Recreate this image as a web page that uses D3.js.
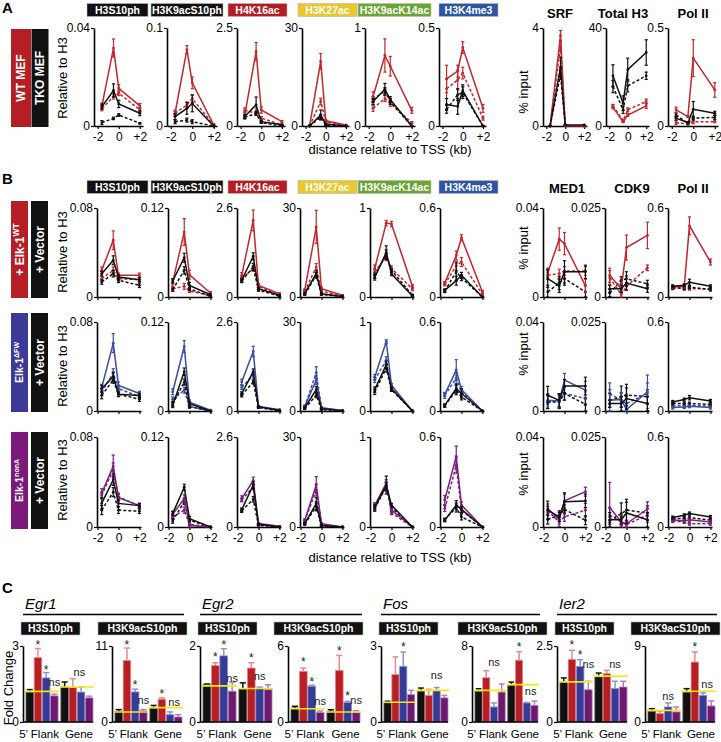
<!DOCTYPE html>
<html>
<head>
<meta charset="utf-8">
<script src="https://cdn.jsdelivr.net/npm/d3@7"></script>
<style>
  body { margin: 0; background: #fff; }
  svg text { font-family: Arial, "Liberation Sans", Helvetica, sans-serif; }
</style>
</head>
<body>
<svg id="fig"></svg>
<script>
// ---------------- data ----------------
const histoneMarks = ["H3S10ph", "H3K9acS10ph", "H4K16ac", "H3K27ac", "H3K9acK14ac", "H3K4me3"];
const markColors = ["#111111", "#111111", "#b51d23", "#e8c82a", "#6aa533", "#2d55a4"];
const factorsA = ["SRF", "Total H3", "Pol II"];
const factorsB = ["MED1", "CDK9", "Pol II"];
const positionsKb = [-1.6, -0.5, 0, 2];
const kbTicks = [-2, 0, 2];
const kbTickLabels = ["-2", "0", "+2"];
const yMaxA = [0.04, 0.1, 2.5, 30, 1, 0.5, 4, 40, 0.5];
const yTopLabelsA = ["0.04", "0.1", "2.5", "30", "1", "0.5", "4", "40", "0.5"];
const yMaxB = [0.08, 0.12, 2.6, 30, 1, 0.6, 0.04, 0.025, 0.6];
const yTopLabelsB = ["0.08", "0.12", "2.6", "30", "1", "0.6", "0.04", "0.025", "0.6"];

// each chart: [coloured solid, coloured dashed, black solid, black dashed], values at positionsKb
const wtMef = [
  [[0.0082, 0.0318, 0.0154, 0.0082], [0.0072, 0.012, 0.0134, 0.0066], [0.0079, 0.0145, 0.009, 0.0052], [0.0014, 0.0031, 0.0045, 0.0011]],
  [[0.013, 0.078, 0.044, 0.001], [0.013, 0.0215, 0.028, 0.001], [0.0095, 0.018, 0.023, 0], [0.0044, 0.006, 0.0044, 0]],
  [[0.28, 1.9, 0.41, 0.11], [0.4, 0.33, 0.2, 0.03], [0.24, 0.54, 0.11, 0.03], [0.22, 0.32, 0.085, 0]],
  [[0, 19.8, 1.6, 0.3], [0, 7.5, 1.3, 0], [0, 3.4, 0.6, 0], [0, 2.7, 0.3, 0]],
  [[0.3, 0.72, 0.61, 0.16], [0.18, 0.28, 0.23, 0.035], [0.25, 0.375, 0.27, 0], [0.27, 0.36, 0.25, 0]],
  [[0.24, 0.28, 0.4, 0.09], [0.19, 0.235, 0.27, 0.04], [0.11, 0.1, 0.18, 0], [0.085, 0.16, 0.17, 0]],
  [[0, 3.7, 0.02, 0], [0, 3.25, 0.02, 0], [0, 2.4, 0.05, 0.04], [0, 2.1, 0.02, 0]],
  [[7.6, 1.8, 4.5, 8.2], [8.2, 2.2, 6.6, 10], [20.5, 9.3, 23, 30], [16.1, 6.6, 16.4, 20.5]],
  [[0.082, 0.048, 0.346, 0.184], [0.017, 0.01, 0.022, 0.022], [0.04, 0.017, 0.085, 0.065], [0.056, 0.014, 0.04, 0.044]]
];
const wtMefErr = [
  [[0.0012, 0.0037, 0.0015, 0.001], [0.001, 0.001, 0.001, 0.0008], [0.001, 0.0027, 0.0015, 0.001], [0.0008, 0.0005, 0.0005, 0.0003]],
  [[0.003, 0.004, 0.006, 0.001], [0.002, 0.003, 0.004, 0.001], [0.003, 0.006, 0.0085, 0], [0.002, 0.002, 0.002, 0]],
  [[0.08, 0.23, 0.08, 0.03], [0.06, 0.05, 0.04, 0.01], [0.05, 0.2, 0.03, 0.01], [0.04, 0.05, 0.02, 0]],
  [[0.3, 2.4, 0.5, 0.1], [0.2, 1, 0.3, 0], [0.2, 1.5, 0.2, 0], [0.1, 0.8, 0.1, 0]],
  [[0.05, 0.17, 0.1, 0.03], [0.03, 0.03, 0.03, 0.01], [0.03, 0.06, 0.03, 0], [0.03, 0.03, 0.03, 0]],
  [[0.07, 0.03, 0.03, 0.02], [0.05, 0.05, 0.03, 0.01], [0.03, 0.04, 0.03, 0], [0.02, 0.03, 0.03, 0]],
  [[0, 0.2, 0.01, 0], [0, 0.2, 0.01, 0], [0, 0.4, 0.01, 0.01], [0, 0.2, 0.01, 0]],
  [[0.6, 0.4, 0.6, 1], [0.6, 0.5, 0.8, 1], [4.5, 3, 4.7, 5.2], [2.5, 1.5, 2.5, 1.5]],
  [[0.014, 0.005, 0.094, 0.037], [0.01, 0.005, 0.01, 0.005], [0.01, 0.005, 0.04, 0.01], [0.01, 0.005, 0.01, 0.01]]
];

const elkWT = [
  [[0.024, 0.051, 0.0195, 0.0195], [0.0165, 0.024, 0.0165, 0.0156], [0.021, 0.033, 0.018, 0.0156], [0.0135, 0.021, 0.015, 0.0105]],
  [[0.02, 0.0876, 0.03, 0.0054], [0.011, 0.0144, 0.008, 0.002], [0.0216, 0.053, 0.0157, 0.003], [0.01, 0.036, 0.011, 0.001]],
  [[0.63, 2.24, 0.34, 0.1], [0.54, 0.83, 0.31, 0.05], [0.49, 1.19, 0.24, 0.05], [0.47, 0.88, 0.2, 0.03]],
  [[2.2, 23.6, 2.8, 0.6], [1.9, 10.1, 2, 0.3], [1.1, 7.9, 1.1, 0.2], [0.9, 7.3, 0.9, 0.1]],
  [[0.32, 0.83, 0.82, 0.12], [0.28, 0.45, 0.32, 0.09], [0.22, 0.5, 0.26, 0.01], [0.24, 0.48, 0.3, 0.02]],
  [[0.094, 0.28, 0.4, 0.034], [0.085, 0.21, 0.236, 0.018], [0.045, 0.11, 0.146, 0], [0.04, 0.17, 0.13, 0]],
  [[0.011, 0.026, 0.024, 0.005], [0.0098, 0.0105, 0.0117, 0.0117], [0.0083, 0.005, 0.0113, 0.0113], [0.0023, 0.0063, 0.0083, 0.0023]],
  [[0.0061, 0.0023, 0.0139, 0.0173], [0.0054, 0.0007, 0.003, 0.0082], [0.0023, 0.0023, 0.0039, 0.0023], [0.0011, 0.0047, 0.0051, 0.0037]],
  [[0.067, 0.072, 0.48, 0.236], [0.063, 0.056, 0.056, 0.056], [0.072, 0.079, 0.1, 0.072], [0.06, 0.06, 0.067, 0.05]]
];
const elkWTErr = [
  [[0.003, 0.0084, 0.002, 0.002], [0.002, 0.003, 0.002, 0.002], [0.002, 0.004, 0.002, 0.002], [0.002, 0.003, 0.002, 0.002]],
  [[0.004, 0.018, 0.006, 0.002], [0.003, 0.004, 0.002, 0.001], [0.003, 0.006, 0.004, 0.001], [0.002, 0.005, 0.002, 0.001]],
  [[0.08, 0.3, 0.05, 0.02], [0.06, 0.08, 0.04, 0.01], [0.05, 0.1, 0.03, 0.01], [0.05, 0.1, 0.03, 0.01]],
  [[0.5, 5.6, 0.5, 0.2], [0.4, 1.2, 0.4, 0.1], [0.3, 1.2, 0.3, 0.1], [0.3, 1, 0.3, 0.1]],
  [[0.04, 0.03, 0.03, 0.02], [0.03, 0.04, 0.03, 0.02], [0.03, 0.075, 0.02, 0.01], [0.03, 0.05, 0.02, 0.01]],
  [[0.01, 0.03, 0.02, 0.01], [0.01, 0.03, 0.03, 0.01], [0.01, 0.03, 0.02, 0], [0.01, 0.06, 0.02, 0]],
  [[0.002, 0.005, 0.005, 0.003], [0.002, 0.002, 0.002, 0.002], [0.004, 0.003, 0.005, 0.003], [0.003, 0.003, 0.003, 0.003]],
  [[0.002, 0.001, 0.0035, 0.0037], [0.002, 0.001, 0.001, 0.0008], [0.001, 0.001, 0.002, 0.001], [0.001, 0.001, 0.002, 0.001]],
  [[0.01, 0.01, 0.06, 0.02], [0.01, 0.01, 0.01, 0.01], [0.01, 0.01, 0.02, 0.01], [0.01, 0.01, 0.01, 0.01]]
];

const elkDFW = [
  [[0.021, 0.061, 0.023, 0.0157], [0.017, 0.034, 0.02, 0.013], [0.02, 0.031, 0.015, 0.014], [0.014, 0.028, 0.015, 0.0106]],
  [[0.026, 0.087, 0.012, 0.001], [0.016, 0.028, 0.006, 0], [0.0077, 0.053, 0.01, 0], [0.0095, 0.039, 0.006, 0]],
  [[0.85, 1.74, 0.14, 0.04], [0.69, 1.05, 0.12, 0.02], [0.51, 1.15, 0.12, 0.02], [0.46, 0.85, 0.1, 0.01]],
  [[1.6, 10.4, 1.1, 0.2], [1.4, 12.9, 1, 0.1], [1.1, 7.2, 0.8, 0.1], [0.8, 5.3, 0.5, 0]],
  [[0.38, 0.78, 0.29, 0], [0.35, 0.57, 0.26, 0], [0.24, 0.52, 0.25, 0], [0.215, 0.48, 0.24, 0]],
  [[0.11, 0.276, 0.145, 0], [0.105, 0.22, 0.13, 0], [0.038, 0.152, 0.118, 0], [0.035, 0.14, 0.095, 0]],
  [[0.0048, 0.0045, 0.0139, 0.0094], [0.0041, 0.0048, 0.0079, 0.0056], [0.0071, 0.0048, 0.0112, 0.0112], [0.0041, 0.0041, 0.0079, 0.003]],
  [[0.003, 0.0032, 0.0004, 0.0054], [0.0049, 0.003, 0.0021, 0.0049], [0.0021, 0.0021, 0.0035, 0.0021], [0.003, 0.004, 0.0045, 0.004]],
  [[0.023, 0.027, 0.032, 0.023], [0.032, 0.038, 0.038, 0.032], [0.061, 0.077, 0.09, 0.068], [0.05, 0.05, 0.05, 0.045]]
];
const elkDFWErr = [
  [[0.003, 0.0085, 0.003, 0.002], [0.003, 0.004, 0.002, 0.002], [0.003, 0.004, 0.002, 0.002], [0.003, 0.003, 0.002, 0.002]],
  [[0.004, 0.008, 0.003, 0.001], [0.003, 0.004, 0.002, 0], [0.003, 0.005, 0.003, 0], [0.003, 0.004, 0.002, 0]],
  [[0.08, 0.15, 0.02, 0.01], [0.06, 0.08, 0.02, 0.01], [0.05, 0.08, 0.02, 0.01], [0.05, 0.06, 0.02, 0.01]],
  [[0.4, 1.5, 0.3, 0.1], [0.4, 2, 0.3, 0.1], [0.3, 1, 0.2, 0], [0.3, 0.8, 0.2, 0]],
  [[0.03, 0.02, 0.02, 0], [0.03, 0.04, 0.02, 0], [0.03, 0.04, 0.02, 0], [0.03, 0.04, 0.02, 0]],
  [[0.01, 0.07, 0.02, 0], [0.02, 0.04, 0.02, 0], [0.01, 0.03, 0.03, 0], [0.01, 0.03, 0.02, 0]],
  [[0.003, 0.003, 0.003, 0.004], [0.003, 0.003, 0.003, 0.003], [0.004, 0.003, 0.003, 0.004], [0.003, 0.003, 0.003, 0.003]],
  [[0.003, 0.002, 0.001, 0.0047], [0.003, 0.002, 0.002, 0.003], [0.001, 0.002, 0.003, 0.002], [0.002, 0.003, 0.003, 0.002]],
  [[0.01, 0.01, 0.01, 0.01], [0.01, 0.01, 0.01, 0.01], [0.01, 0.01, 0.015, 0.01], [0.01, 0.01, 0.01, 0.01]]
];

const elkNonA = [
  [[0.03, 0.054, 0.026, 0.019], [0.028, 0.051, 0.027, 0.0185], [0.021, 0.042, 0.021, 0.019], [0.015, 0.031, 0.015, 0.014]],
  [[0.017, 0.038, 0.002, 0], [0.0134, 0.0224, 0.0036, 0], [0.018, 0.053, 0.0112, 0], [0.008, 0.034, 0.009, 0]],
  [[0.82, 1.34, 0.1, 0.02], [0.78, 1.16, 0.08, 0.01], [0.5, 1.21, 0.08, 0], [0.47, 0.8, 0.05, 0]],
  [[2.2, 14, 1.1, 0], [2, 12.3, 0.9, 0], [1.1, 7.8, 0.5, 0], [0.9, 6.9, 0.4, 0]],
  [[0.24, 0.485, 0.187, 0], [0.23, 0.455, 0.157, 0], [0.216, 0.466, 0.243, 0], [0.205, 0.448, 0.216, 0]],
  [[0.18, 0.47, 0.146, 0], [0.123, 0.41, 0.112, 0], [0.045, 0.146, 0.117, 0], [0.049, 0.13, 0.067, 0]],
  [[0.0082, 0.0033, 0.0116, 0.0157], [0.0072, 0.0022, 0.0045, 0.0075], [0.0075, 0.0045, 0.0112, 0.0116], [0.0033, 0.0052, 0.0078, 0.003]],
  [[0.0054, 0.0014, 0.0009, 0.005], [0.0033, 0.0014, 0.0007, 0.0033], [0.002, 0.002, 0.0039, 0.002], [0.0018, 0.0037, 0.0047, 0.0039]],
  [[0.049, 0.04, 0.049, 0.034], [0.04, 0.034, 0.022, 0.022], [0.063, 0.078, 0.09, 0.067], [0.056, 0.056, 0.063, 0.045]]
];
const elkNonAErr = [
  [[0.004, 0.01, 0.003, 0.002], [0.003, 0.006, 0.003, 0.002], [0.005, 0.005, 0.003, 0.002], [0.004, 0.004, 0.003, 0.002]],
  [[0.004, 0.005, 0.002, 0], [0.003, 0.004, 0.002, 0], [0.003, 0.004, 0.003, 0], [0.003, 0.004, 0.002, 0]],
  [[0.08, 0.1, 0.02, 0.01], [0.05, 0.08, 0.02, 0.01], [0.05, 0.1, 0.02, 0], [0.05, 0.08, 0.02, 0]],
  [[0.5, 2.8, 0.3, 0], [0.4, 2, 0.3, 0], [0.3, 2, 0.2, 0], [0.3, 1.5, 0.2, 0]],
  [[0.03, 0.04, 0.02, 0], [0.03, 0.04, 0.02, 0], [0.03, 0.1, 0.02, 0], [0.03, 0.05, 0.02, 0]],
  [[0.03, 0.07, 0.02, 0], [0.02, 0.05, 0.02, 0], [0.01, 0.03, 0.02, 0], [0.01, 0.03, 0.02, 0]],
  [[0.002, 0.002, 0.003, 0.002], [0.002, 0.002, 0.002, 0.003], [0.004, 0.002, 0.004, 0.003], [0.002, 0.002, 0.002, 0.002]],
  [[0.007, 0.002, 0.001, 0.002], [0.002, 0.001, 0.001, 0.002], [0.002, 0.001, 0.003, 0.002], [0.001, 0.003, 0.003, 0.002]],
  [[0.01, 0.01, 0.01, 0.01], [0.01, 0.01, 0.01, 0.01], [0.01, 0.01, 0.01, 0.01], [0.01, 0.01, 0.01, 0.01]]
];

// panel C
const genes = ["Egr1", "Egr2", "Fos", "Ier2"];
const cMarks = ["H3S10ph", "H3K9acS10ph"];
const regions = ["5\u2019 Flank", "Gene"];
const conditions = ["Vector", "Elk-1 WT", "Elk-1 \u0394FW", "Elk-1 nonA"];
const cYMax = [3, 11, 2, 6, 3, 8, 2.5, 9];
const cYLabels = ["3", "11", "2", "6", "3", "8", "2.5", "9"];
// 8 bars per chart: flank (vector, WT, dFW, nonA), gene (vector, WT, dFW, nonA)
const foldChange = [
  [1.18, 2.54, 1.74, 1.03, 1.38, 1.36, 1.18, 0.95],
  [1.55, 8.9, 4.35, 1.6, 2.0, 3.3, 1.06, 0.72],
  [0.98, 1.49, 1.74, 0.81, 0.86, 1.42, 0.89, 0.85],
  [1.1, 4.0, 2.82, 0.74, 0.84, 4.08, 1.53, 0.74],
  [0.75, 1.87, 2.2, 1.08, 1.22, 1.05, 1.25, 0.95],
  [3.2, 4.66, 1.58, 3.15, 3.86, 6.5, 2.0, 1.75],
  [1.32, 2.06, 1.83, 1.06, 1.48, 1.59, 1.1, 1.15],
  [1.26, 0.99, 1.78, 1.19, 3.48, 7.1, 3.16, 1.9]
];
const foldErr = [
  [0.1, 0.36, 0.21, 0.07, 0.2, 0.35, 0.2, 0.07],
  [0.25, 1.8, 0.4, 0.2, 0.4, 0.2, 0.4, 0.34],
  [0.02, 0.07, 0.19, 0.24, 0.17, 0.14, 0.03, 0.13],
  [0.14, 0.26, 0.08, 0.13, 0.13, 1.18, 0.1, 0.15],
  [0.07, 0.7, 0.56, 0.17, 0.12, 0.24, 0.11, 0.1],
  [0.3, 0.74, 0.42, 0.85, 0.34, 0.9, 0.05, 0.45],
  [0.13, 0.3, 0.22, 0.28, 0.13, 0.11, 0.24, 0.19],
  [0.32, 0.27, 0.47, 0.59, 0.47, 1.2, 0.28, 0.59]
];
const yellowRef = [[1.21, 1.38], [1.45, 2.08], [0.95, 0.88], [1.05, 0.79], [0.78, 1.25], [3.33, 3.93], [1.32, 1.51], [1.38, 3.64]];
// [bar index, label, height]
const signif = [
  [[1, "*", 2.87], [2, "*", 1.9], [3, "ns", 1.42], [5.8, "ns", 1.82]],
  [[1, "*", 10.5], [2, "*", 4.83], [3, "ns", 2.56], [5, "*", 3.48], [6.5, "ns", 2.32]],
  [[1, "*", 1.6], [2, "*", 1.93], [3, "ns", 1.04], [5, "*", 1.58], [6, "ns", 1.11]],
  [[1, "*", 4.42], [2, "*", 2.84], [3, "ns", 1.32], [5, "*", 5.26], [6, "*", 1.71], [7, "ns", 1.45]],
  [[2, "*", 2.8], [6, "ns", 1.68]],
  [[2, "ns", 5.9], [5, "*", 7.5], [6.5, "ns", 2.8]],
  [[1, "*", 2.39], [2, "*", 2.06], [3, "ns", 1.79], [6, "ns", 1.79]],
  [[2, "ns", 2.57], [5, "*", 8.42], [6.5, "ns", 4.03]]
];

// ---------------- drawing ----------------
const svg = d3.select("#fig").attr("width", 721).attr("height", 742);
svg.append("rect").attr("width", 721).attr("height", 742).attr("fill", "#fff");

const red = "#c1272d", blue = "#3a4ba2", purple = "#7b1e7f", ink = "#111";

function txt(x, y, s, size, o = {}) {
  const t = svg.append("text").attr("x", x).attr("y", y).attr("font-size", size).attr("fill", o.fill || "#000").text(s);
  if (o.anchor) t.attr("text-anchor", o.anchor);
  if (o.weight) t.attr("font-weight", o.weight);
  if (o.italic) t.attr("font-style", "italic");
  if (o.rotate) t.attr("transform", `rotate(-90,${x},${y})`);
  return t;
}

function headerBox(x0, x1, y, label, fill) {
  svg.append("rect").attr("x", x0).attr("y", y).attr("width", x1 - x0).attr("height", 13)
    .attr("fill", fill).attr("stroke", "#bbb").attr("stroke-width", 0.6);
  txt((x0 + x1) / 2, y + 10.2, label, 10.5, { anchor: "middle", weight: "bold", fill: "#fff" });
}

function rowBox(x, w, y0, y1, fill, main, sup, size) {
  svg.append("rect").attr("x", x).attr("y", y0).attr("width", w).attr("height", y1 - y0).attr("fill", fill);
  const cx = x + w / 2, cy = (y0 + y1) / 2;
  const t = txt(cx, cy, main, size, { anchor: "middle", weight: "bold", fill: "#fff", rotate: true }).attr("dy", "0.36em");
  if (sup) t.append("tspan").attr("font-size", size - 3.5).attr("dy", -4.5).text(sup);
}

function styleAxis(g) {
  g.attr("font-size", 12);
  g.select(".domain").attr("stroke", "#000").attr("stroke-width", 1.6);
  g.selectAll(".tick line").attr("stroke", "#000").attr("stroke-width", 1.2);
  g.selectAll(".tick text").attr("fill", "#000");
}

const seriesStyle = [
  { dash: null, col: true }, { dash: "3,2", col: true },
  { dash: null, col: false }, { dash: "3,2", col: false }
];

function lineChart(x0, w, top, bottom, dom, yMax, yTop, vals, errs, colour, showLabels) {
  const x = d3.scaleLinear().domain(dom).range([x0, x0 + w]);
  const y = d3.scaleLinear().domain([0, yMax]).range([bottom, top]);
  const g = svg.append("g");
  const gy = g.append("g").attr("transform", `translate(${x0},0)`)
    .call(d3.axisLeft(y).tickValues([0, yMax]).tickSize(3).tickSizeOuter(0).tickPadding(1)
      .tickFormat(d => d === 0 ? "0" : yTop));
  styleAxis(gy);
  const gx = g.append("g").attr("transform", `translate(0,${bottom})`)
    .call(d3.axisBottom(x).tickValues(kbTicks).tickSize(3).tickSizeOuter(0).tickPadding(3)
      .tickFormat((d, i) => showLabels ? kbTickLabels[i] : ""));
  styleAxis(gx);
  const line = d3.line().x((d, i) => x(positionsKb[i])).y(d => y(d));
  [1, 3, 0, 2].forEach(k => {
    const s = seriesStyle[k];
    const c = s.col ? colour : ink;
    const v = vals[k], e = errs[k];
    const sg = g.append("g");
    sg.append("path").attr("d", line(v)).attr("fill", "none").attr("stroke", c)
      .attr("stroke-width", 1.5).attr("stroke-dasharray", s.dash);
    v.forEach((d, i) => {
      const px = x(positionsKb[i]);
      const lo = y(Math.max(0, d - e[i])), hi = y(d + e[i]);
      sg.append("line").attr("x1", px).attr("x2", px).attr("y1", lo).attr("y2", hi).attr("stroke", c).attr("stroke-width", 1.2);
      [lo, hi].forEach(yy => sg.append("line").attr("x1", px - 1.6).attr("x2", px + 1.6).attr("y1", yy).attr("y2", yy)
        .attr("stroke", c).attr("stroke-width", 1.2));
      sg.append("circle").attr("cx", px).attr("cy", y(d)).attr("r", 1.4).attr("fill", c);
    });
  });
}

// ---- Panel A ----
txt(2, 13, "A", 15, { weight: "bold" });
const hdrX = [[87, 148], [151, 223], [228, 287], [298, 357], [358, 431], [439, 498]];
histoneMarks.forEach((m, i) => headerBox(hdrX[i][0], hdrX[i][1], 3.5, m, markColors[i]));
const facCx = [560, 623, 693];
factorsA.forEach((f, i) => txt(facCx[i], 18, f, 13, { anchor: "middle", weight: "bold" }));
rowBox(11, 20, 29, 127, "#b51e24", "WT MEF", null, 12);
rowBox(31.5, 17, 29, 127, "#111", "TKO MEF", null, 12);
const xsA = [94, 167, 237, 302, 365, 439, 543, 606, 668];
const wsA = [49, 50, 48, 47, 50, 47, 44, 43, 50];
xsA.forEach((x0, i) => lineChart(x0, wsA[i], 28, 126, [-2.35, 2.3], yMaxA[i], yTopLabelsA[i], wtMef[i], wtMefErr[i], red, true));
txt(62, 78, "Relative to H3", 13, { anchor: "middle", rotate: true }).attr("dy", "0.35em");
txt(523, 92, "% input", 13, { anchor: "middle", rotate: true }).attr("dy", "0.35em");
txt(390, 154, "distance relative to TSS (kb)", 13, { anchor: "middle" });

// ---- Panel B ----
txt(2, 184, "B", 15, { weight: "bold" });
histoneMarks.forEach((m, i) => headerBox(hdrX[i][0], hdrX[i][1], 180.5, m, markColors[i]));
factorsB.forEach((f, i) => txt(facCx[i] + (i === 0 ? 7 : i === 1 ? 9 : 0), 193, f, 13, { anchor: "middle", weight: "bold" }));
const xsB = [97, 168, 237, 300, 370, 440, 543, 605, 668];
const rowsB = [
  { top: 208, bottom: 297, vals: elkWT, errs: elkWTErr, colour: red, box: "#b51e24", main: "+ Elk-1", sup: "WT", size: 12, b0: 201, b1: 298, yl: 252, yi: 248 },
  { top: 322, bottom: 411, vals: elkDFW, errs: elkDFWErr, colour: blue, box: "#3b3a96", main: "Elk-1", sup: "\u0394FW", size: 10.5, b0: 313, b1: 412, yl: 366, yi: 354 },
  { top: 437, bottom: 527, vals: elkNonA, errs: elkNonAErr, colour: purple, box: "#7b1a7a", main: "Elk-1", sup: "nonA", size: 10.5, b0: 432, b1: 529, yl: 480, yi: 474 }
];
rowsB.forEach((r, ri) => {
  rowBox(11, 17, r.b0, r.b1, r.box, r.main, r.sup, r.size);
  rowBox(31, 17, r.b0, r.b1, "#111", "+ Vector", null, 12);
  xsB.forEach((x0, i) => lineChart(x0, 44, r.top, r.bottom, [-2.05, 2.15], yMaxB[i], yTopLabelsB[i], r.vals[i], r.errs[i], r.colour, ri === 2));
  txt(62, r.yl, "Relative to H3", 13, { anchor: "middle", rotate: true }).attr("dy", "0.35em");
  txt(523, r.yi, "% input", 13, { anchor: "middle", rotate: true }).attr("dy", "0.35em");
});
txt(390, 562, "distance relative to TSS (kb)", 13, { anchor: "middle" });

// ---- Panel C ----
txt(2, 593, "C", 15, { weight: "bold" });
const cX = [23, 112, 200, 288, 381, 472, 557, 645];
const cW = [70, 70, 72, 72, 67, 66, 70, 70];
const cTop = 646, cBottom = 722;
const barFill = ["#111111", "#b81f24", "#363b95", "#6c1a6f"];
const barEdge = ["#555555", "#e48c8e", "#8d92d0", "#b87cb9"];
genes.forEach((gname, k) => {
  const a = cX[2 * k], b = cX[2 * k + 1] + cW[2 * k + 1] + 2;
  txt(a + 2, 609, gname, 15, { italic: true });
  svg.append("line").attr("x1", a).attr("x2", Math.min(b, 721)).attr("y1", 614.5).attr("y2", 614.5).attr("stroke", "#000").attr("stroke-width", 1.4);
});
cX.forEach((x0, i) => {
  if (i % 2 === 0) headerBox(x0 - 2, x0 + 57, 622, cMarks[0], "#111");
  else headerBox(x0 - 14, Math.min(x0 + 75, 720), 622, cMarks[1], "#111");
});
txt(8, 688, "Fold Change", 13, { anchor: "middle", rotate: true }).attr("dy", "0.35em");

cX.forEach((x0, i) => {
  const w = cW[i];
  const y = d3.scaleLinear().domain([0, cYMax[i]]).range([cBottom, cTop]);
  const gx = d3.scaleBand().domain(regions).range([x0 + 3, x0 + w]).paddingInner(0.08);
  const bx = d3.scaleBand().domain(conditions).range([0, gx.bandwidth()]).paddingInner(0.08);
  const g = svg.append("g");
  const bars = foldChange[i].map((v, j) => ({ v, e: foldErr[i][j], r: regions[j >> 2], c: j % 4 }));
  const bxPos = d => gx(d.r) + bx(conditions[d.c]);
  // error whiskers (upper)
  bars.forEach(d => {
    const cx = bxPos(d) + bx.bandwidth() / 2, top = y(d.v + d.e);
    const col = d.c === 0 ? "#111" : barEdge[d.c];
    g.append("line").attr("x1", cx).attr("x2", cx).attr("y1", y(d.v)).attr("y2", top).attr("stroke", col).attr("stroke-width", 1.5);
    g.append("line").attr("x1", cx - bx.bandwidth() * 0.4).attr("x2", cx + bx.bandwidth() * 0.4).attr("y1", top).attr("y2", top).attr("stroke", col).attr("stroke-width", 1.5);
  });
  g.selectAll("rect.bar").data(bars).join("rect").attr("class", "bar")
    .attr("x", bxPos).attr("width", bx.bandwidth())
    .attr("y", d => y(d.v)).attr("height", d => y(0) - y(d.v))
    .attr("fill", d => barFill[d.c]).attr("stroke", d => barEdge[d.c]).attr("stroke-width", 0.8);
  // yellow reference lines
  yellowRef[i].forEach((v, r) => {
    g.append("line").attr("x1", gx(regions[r]) - 1).attr("x2", gx(regions[r]) + gx.bandwidth() + 1)
      .attr("y1", y(v)).attr("y2", y(v)).attr("stroke", "#f4ea10").attr("stroke-width", 1.6);
  });
  // significance labels
  signif[i].forEach(([idx, lab, h]) => {
    const r = Math.floor(idx / 4), pos = idx - 4 * r;
    const cx = gx(regions[Math.min(r, 1)]) + pos * bx.step() + bx.bandwidth() / 2;
    g.append("text").attr("x", cx).attr("y", y(h)).attr("text-anchor", "middle")
      .attr("font-size", lab === "*" ? 12 : 11).attr("fill", "#222").text(lab);
  });
  // axes
  const gy = g.append("g").attr("transform", `translate(${x0},0)`)
    .call(d3.axisLeft(y).tickValues([0, cYMax[i]]).tickSize(3).tickSizeOuter(0).tickPadding(1)
      .tickFormat(d => d === 0 ? "0" : cYLabels[i]));
  styleAxis(gy);
  g.append("line").attr("x1", x0).attr("x2", x0 + w).attr("y1", y(0)).attr("y2", y(0)).attr("stroke", "#000").attr("stroke-width", 1.4);
  const gb = g.append("g").attr("transform", `translate(0,${cBottom})`)
    .call(d3.axisBottom(gx).tickSize(0).tickPadding(8));
  gb.select(".domain").remove();
  gb.attr("font-size", 11.5);
  gb.selectAll(".tick text").attr("fill", "#000").attr("dx", (d, j) => j === 0 ? -3 : 2);
});
</script>
</body>
</html>
